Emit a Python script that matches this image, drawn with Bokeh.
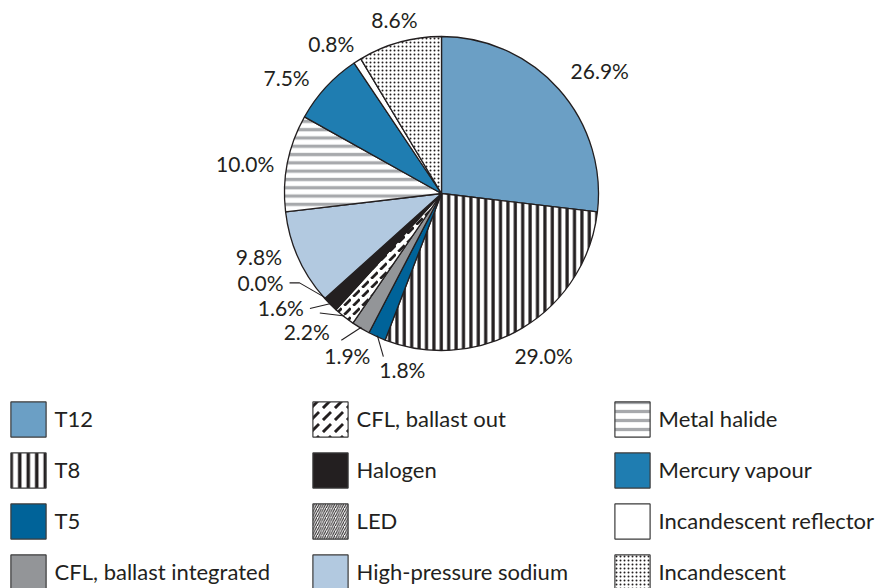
import numpy as np
from bokeh.plotting import figure
from bokeh.models import ColumnDataSource, Range1d, Legend, LegendItem
from bokeh.core.properties import value
from bokeh.embed import file_html
from bokeh.resources import INLINE

# ---------------- data ----------------
categories = ["T12", "T8", "T5", "CFL, ballast integrated", "CFL, ballast out",
              "Halogen", "LED", "High-pressure sodium", "Metal halide",
              "Mercury vapour", "Incandescent reflector", "Incandescent"]
shares = [26.9, 29.0, 1.8, 1.9, 2.2, 1.6, 0.0, 9.8, 10.0, 7.5, 0.8, 8.6]

# ---------------- styles ----------------
INK = "#231f20"
FONT = "Lato"
FS_LABEL = "21px"
FS_LEGEND = "22px"
fill_colors = ["#6b9fc5", "#ffffff", "#006399", "#939598", "#ffffff", "#231f20",
               "#ffffff", "#b2c9e0", "#ffffff", "#1f7db1", "#ffffff", "#ffffff"]
hatch_patterns = ["blank", "vertical_line", "blank", "blank", "right_diagonal_dash",
                  "blank", "right_diagonal_line", "blank", "horizontal_line",
                  "blank", "blank", "dot"]
hatch_colors = [INK, INK, INK, INK, INK, INK, INK, INK, "#a7a9ac", INK, INK, INK]
pie_hatch_scale = [12, 7.4, 12, 12, 9, 12, 3, 12, 8.3, 12, 12, 4]
pie_hatch_weight = [1, 3.2, 1, 1, 2.8, 1, 1, 1, 3.3, 1, 1, 1.2]
leg_hatch_scale = [12, 8.5, 12, 12, 12, 12, 4.5, 12, 9, 12, 12, 4]
leg_hatch_weight = [1, 3.5, 1, 1, 3, 1, 1, 1, 3.3, 1, 1, 1.2]

W, H = 879, 588
CX, CY, R = 441, 395, 157

# ---------------- geometry ----------------
vals = np.array(shares, dtype=float)
frac = vals / vals.sum()
cum_end = np.cumsum(frac)
cum_start = cum_end - frac
start_angle = np.pi / 2 - 2 * np.pi * cum_start
end_angle = np.pi / 2 - 2 * np.pi * cum_end
theta = 2 * np.pi * (cum_start + frac / 2)  # clockwise from 12 o'clock

keep = [i for i in range(len(categories)) if frac[i] > 0]  # zero slice = just a border
pie_src = ColumnDataSource(dict(
    cat=[categories[i] for i in keep],
    start=start_angle[keep], end=end_angle[keep],
    fill=[fill_colors[i] for i in keep], hp=[hatch_patterns[i] for i in keep],
    hc=[hatch_colors[i] for i in keep], hs=[pie_hatch_scale[i] for i in keep],
    hw=[pie_hatch_weight[i] for i in keep]))

p = figure(width=W, height=H, x_range=Range1d(0, W), y_range=Range1d(0, H),
           output_backend="svg", toolbar_location=None, min_border=0,
           x_axis_location=None, y_axis_location=None)
p.grid.visible = False
p.outline_line_color = None
p.background_fill_color = "white"

p.wedge(x=CX, y=CY, radius=R, start_angle="start", end_angle="end",
        direction="clock", source=pie_src, fill_color="fill",
        hatch_pattern="hp", hatch_color="hc", hatch_scale="hs", hatch_weight="hw",
        line_color=INK, line_width=1.3)

# ---------------- labels ----------------
# leader-line labels: offsets (screen px, y down) relative to slice edge point
leader_layout = {
    "T5": ((25, 34, "center"), [(6, 21)]),
    "CFL, ballast integrated": ((-14, 28, "center"), [(-20, 13)]),
    "CFL, ballast out": ((-15, 16, "right"), [(-25, -3)]),
    "Halogen": ((-27, 4, "right"), [(-21, 5)]),
    "LED": ((-42, -15, "right"), [(-36, -15), (-26, -15)]),
}
# small nudges for the plain labels (screen px, y down)
label_nudge = {
    "T12": (-1, -7), "T8": (7, 4), "High-pressure sodium": (-1, -9),
    "Metal halide": (3.5, 4), "Mercury vapour": (-4, 2),
    "Incandescent reflector": (6, -3.5), "Incandescent": (2, 3),
}

lx, ly, ltxt, lalign = [], [], [], []
line_xs, line_ys = [], []
for i, c in enumerate(categories):
    s, co = np.sin(theta[i]), np.cos(theta[i])
    txt = f"{shares[i]:.1f}%"
    if c in leader_layout:
        ex, ey = CX + (R - 1) * s, CY + (R - 1) * co
        (tx, ty, al), pts = leader_layout[c]
        lx.append(ex + tx); ly.append(ey - ty); ltxt.append(txt); lalign.append(al)
        line_xs.append([ex + a for a, b in pts] + [ex])
        line_ys.append([ey - b for a, b in pts] + [ey])
    else:
        if s > 0.6:
            al, d = "left", 174
        elif s < -0.45:
            al, d = "right", 174
        else:
            al, d = "center", 184
        nx, ny = label_nudge.get(c, (0, 0))
        lx.append(CX + d * s + nx); ly.append(CY + d * co - ny)
        ltxt.append(txt); lalign.append(al)

p.multi_line(xs=line_xs, ys=line_ys, line_color=INK, line_width=1.1)
p.text(x=lx, y=ly, text=ltxt, text_align=lalign, text_baseline="middle",
       text_font=value(FONT), text_font_size=FS_LABEL, text_color=INK)

# ---------------- legend ----------------
items = []
for i, c in enumerate(categories):
    # off-canvas proxy glyph, only used for the legend swatch
    r = p.rect(x=[-1000], y=[-1000], width=1, height=1, fill_color=fill_colors[i],
               hatch_pattern=hatch_patterns[i], hatch_color=hatch_colors[i],
               hatch_scale=leg_hatch_scale[i], hatch_weight=leg_hatch_weight[i],
               line_color="#3a3a3a", line_width=1.2)
    items.append(LegendItem(label=c, renderers=[r]))

GLYPH = 44
LEG_Y = -5.6
for col, x0 in enumerate([5.6, 307.6, 609.6]):
    lg = Legend(items=items[col * 4:(col + 1) * 4], location=(x0, LEG_Y),
                orientation="vertical", glyph_width=GLYPH, glyph_height=GLYPH,
                spacing=7, padding=0, margin=0, label_standoff=5,
                label_text_font=FONT, label_text_font_size=FS_LEGEND,
                label_text_color=INK,
                border_line_color=None, background_fill_alpha=0)
    p.add_layout(lg)

open("out.html", "w").write(file_html(p, INLINE))
